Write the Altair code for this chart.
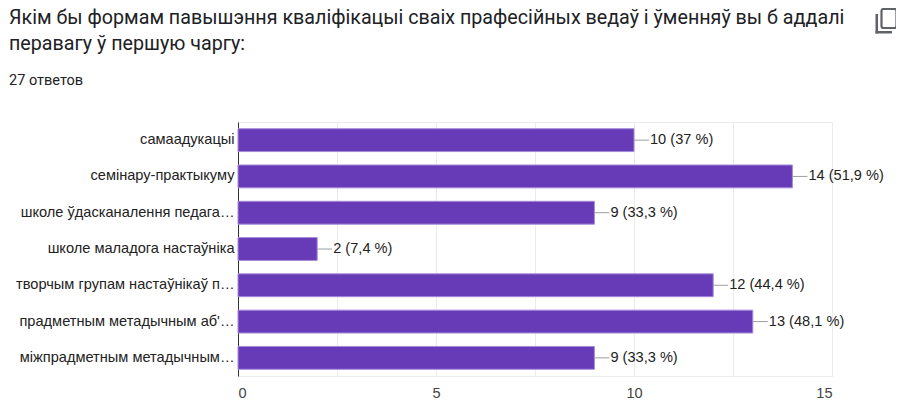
import altair as alt
import pandas as pd

categories = [
    "самаадукацыі",
    "семінару-практыкуму",
    "школе ўдасканалення педага…",
    "школе маладога настаўніка",
    "творчым групам настаўнікаў п…",
    "прадметным метадычным аб'…",
    "міжпрадметным метадычным…",
]
counts = [10, 14, 9, 2, 12, 13, 9]
percents = ["37", "51,9", "33,3", "7,4", "44,4", "48,1", "33,3"]
x_ticks = [0, 2.5, 5, 7.5, 10, 12.5, 15]
title_line1 = "Якім бы формам павышэння кваліфікацыі сваіх прафесійных ведаў і ўменняў вы б аддалі"
title_line2 = "перавагу ў першую чаргу:"
subtitle = "27 ответов"

df = pd.DataFrame({
    "cat": categories,
    "count": counts,
    "label": [f"{c} ({p} %)" for c, p in zip(counts, percents)],
})

FONT = "Liberation Sans"
HFONT = "Roboto"
FS = 14.6

y_enc = alt.Y(
    "cat:N",
    sort=categories,
    title=None,
    scale=alt.Scale(paddingInner=0.37, paddingOuter=0.185),
    axis=alt.Axis(
        labelFont=FONT, labelFontSize=FS, labelColor="#222222",
        ticks=False, domainColor="#333333", domainWidth=1,
        labelPadding=4, labelLimit=0, grid=False,
    ),
)

base = alt.Chart(df).encode(y=y_enc)

bars = base.mark_bar(color="#673ab7", stroke="#a58bd9", strokeWidth=1).encode(
    x=alt.X(
        "count:Q",
        title=None,
        scale=alt.Scale(domain=[0, 15], nice=False),
        axis=alt.Axis(
            values=x_ticks,
            labelExpr="datum.value % 5 === 0 ? datum.label : ''",
            ticks=False, domain=False,
            gridColor="#ebebeb", gridWidth=1,
            labelFont=FONT, labelFontSize=FS, labelColor="#444444",
            labelPadding=9,
        ),
    )
)

connectors = base.mark_rule(color="#9e9e9e", strokeWidth=1, x2Offset=15).encode(
    x=alt.X("count:Q", title=None),
    x2="count:Q",
)

texts = base.mark_text(
    align="left", baseline="middle", dx=16, font=FONT, fontSize=FS, color="#222222"
).encode(
    x=alt.X("count:Q", title=None),
    text="label:N",
)

one = pd.DataFrame({"k": [0]})


def header(txt, y, size):
    return alt.Chart(one).mark_text(
        align="left", baseline="alphabetic", font=HFONT, fontSize=size,
        color="#202124", text=txt,
    ).encode(x=alt.value(-229), y=alt.value(y))


head1 = header(title_line1, -98, 19.7)
head2 = header(title_line2, -72.5, 19.7)
head3 = header(subtitle, -36.7, 14.5)

icon_back_v = alt.Chart(one).mark_rect(color="#5f6368").encode(
    x=alt.value(637.5), x2=alt.value(640), y=alt.value(-108), y2=alt.value(-88.5)
)
icon_back_h = alt.Chart(one).mark_rect(color="#5f6368").encode(
    x=alt.value(637.5), x2=alt.value(654), y=alt.value(-91), y2=alt.value(-88.5)
)
icon_front = alt.Chart(one).mark_rect(
    fill="white", stroke="#5f6368", strokeWidth=2.2, cornerRadius=2
).encode(
    x=alt.value(643.5), x2=alt.value(658.5), y=alt.value(-113), y2=alt.value(-94)
)

chart = alt.layer(
    bars, connectors, texts, head1, head2, head3, icon_back_v, icon_back_h, icon_front
).properties(
    width=594,
    height=254,
    autosize=alt.AutoSizeParams(type="none"),
    padding={"left": 230, "top": 114, "right": 64, "bottom": 26},
).configure_view(stroke="#ebebeb")

chart.save("out.html", embed_options={"renderer": "svg", "actions": False})
